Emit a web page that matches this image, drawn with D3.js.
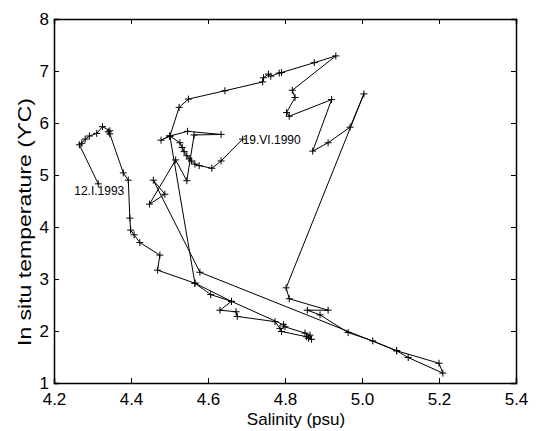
<!DOCTYPE html>
<html>
<head>
	<meta charset="utf-8">
	<title></title>
	<script src="https://cdn.jsdelivr.net/npm/d3@7/dist/d3.min.js"></script>
	<style type="text/css">
		body{
			margin: 0;
			padding: 0;
			background: #fff;
		}
		svg{
			display: block;
			font-family: "Liberation Sans", Arial, Helvetica, sans-serif;
		}
	</style>
</head>
<body>
	<svg id="svg" width="536" height="431"></svg>
</body>
	<script type="text/javascript">
		// T-S path, 19.VI.1990 -> 12.I.1993
		let salinity = [
			4.690,4.634,4.610,4.577,4.566,4.557,4.551,4.545,4.538,4.533,
			4.527,4.501,4.478,4.501,4.547,4.634,4.564,4.545,4.516,4.448,
			4.488,4.458,4.579,5.090,5.120,5.210,5.200,5.090,5.028,4.964,
			4.891,4.858,4.912,4.811,4.803,5.005,4.969,4.912,4.872,4.921,
			4.811,4.804,4.826,4.819,4.932,4.876,4.791,4.785,4.763,4.757,
			4.744,4.742,4.644,4.549,4.525,4.501,4.566,4.661,4.796,4.800,
			4.852,4.865,4.869,4.861,4.856,4.791,4.787,4.774,4.676,4.673,
			4.631,4.661,4.607,4.566,4.469,4.475,4.423,4.408,4.399,4.397,
			4.393,4.380,4.345,4.341,4.345,4.326,4.311,4.292,4.281,4.272,
			4.266,4.315
		];
		let temperature = [
			5.69,5.27,5.13,5.18,5.21,5.27,5.31,5.37,5.45,5.53,
			5.62,5.75,5.67,5.75,5.84,5.78,5.77,4.89,5.29,4.44,
			4.63,4.90,3.13,1.62,1.49,1.19,1.38,1.62,1.81,1.97,
			2.31,2.40,2.40,2.62,2.83,6.56,5.92,5.62,5.46,6.45,
			6.13,6.20,6.49,6.63,7.29,7.16,6.97,6.96,6.90,6.94,
			6.87,6.79,6.62,6.46,6.30,5.75,2.92,2.57,2.12,2.08,
			1.96,1.92,1.84,1.86,1.89,1.99,2.05,2.18,2.28,2.37,
			2.40,2.57,2.70,2.92,3.17,3.46,3.70,3.85,3.94,4.17,
			4.90,5.04,5.79,5.83,5.85,5.93,5.80,5.75,5.69,5.61,
			5.58,4.83
		];
		let xTicks = [4.2,4.4,4.6,4.8,5.0,5.2,5.4];
		let yTicks = [1,2,3,4,5,6,7,8];
		let dateLabels = ["19.VI.1990","12.I.1993"];

		let svg = d3.select('#svg');
		let padL = 54, padR = 516, padT = 19, padB = 383;

		let x = d3.scaleLinear().domain([4.2,5.4]).range([padL,padR]);
		let y = d3.scaleLinear().domain([1,8]).range([padB,padT]);

		let points = salinity.map((s,i)=>[s,temperature[i]]);

		// path
		svg.append('path')
			.datum(points)
			.attr('fill','none')
			.attr('stroke','#000')
			.attr('stroke-width',1)
			.attr('d',d3.line().x(d=>x(d[0])).y(d=>y(d[1])));

		// + markers
		let m = 3.5;
		svg.append('g').selectAll('path.mk')
			.data(points)
			.join('path')
			.attr('class','mk')
			.attr('fill','none')
			.attr('stroke','#000')
			.attr('stroke-width',1)
			.attr('d',d=>{
				let px = x(d[0]), py = y(d[1]);
				return 'M'+(px-m)+','+py+'H'+(px+m)+'M'+px+','+(py-m)+'V'+(py+m);
			});

		// date labels
		let first = points[0], last = points[points.length-1];
		svg.append('text')
			.attr('x',x(first[0]))
			.attr('y',y(first[1])+4.5)
			.style('font-size','12px')
			.text(dateLabels[0]);
		svg.append('text')
			.attr('x',x(last[0])+1)
			.attr('y',y(last[1])+11)
			.attr('text-anchor','middle')
			.style('font-size','12px')
			.text(dateLabels[1]);

		// axes, ticks inward on all four sides
		let fmt = d3.format('.1f');
		let ax = svg.append('g').attr('transform','translate(0,'+padB+')')
			.call(d3.axisBottom(x).tickValues(xTicks).tickFormat(fmt).tickSize(-5).tickPadding(10));
		let ay = svg.append('g').attr('transform','translate('+padL+',0)')
			.call(d3.axisLeft(y).tickValues(yTicks).tickFormat(d3.format('d')).tickSize(-5).tickPadding(5));
		let at = svg.append('g').attr('transform','translate(0,'+padT+')')
			.call(d3.axisTop(x).tickValues(xTicks).tickFormat('').tickSize(-5));
		let ar = svg.append('g').attr('transform','translate('+padR+',0)')
			.call(d3.axisRight(y).tickValues(yTicks).tickFormat('').tickSize(-5));

		[ax,ay,at,ar].forEach(a=>{
			a.select('.domain').attr('stroke','#000').attr('stroke-width',1.5);
			a.selectAll('.tick line').attr('stroke','#000');
			a.selectAll('text')
				.attr('fill','#000')
				.style('font-family','"Liberation Sans", Arial, sans-serif')
				.style('font-size','17px');
		});

		svg.append('text')
			.attr('x',296)
			.attr('y',425)
			.attr('text-anchor','middle')
			.style('font-size','17px')
			.text('Salinity (psu)');

		svg.append('text')
			.attr('transform','translate(24,222) rotate(-90)')
			.attr('text-anchor','middle')
			.attr('dominant-baseline','central')
			.attr('textLength',248)
			.attr('lengthAdjust','spacingAndGlyphs')
			.style('font-size','19px')
			.text('In situ temperature (ϒC)');
	</script>
</html>
